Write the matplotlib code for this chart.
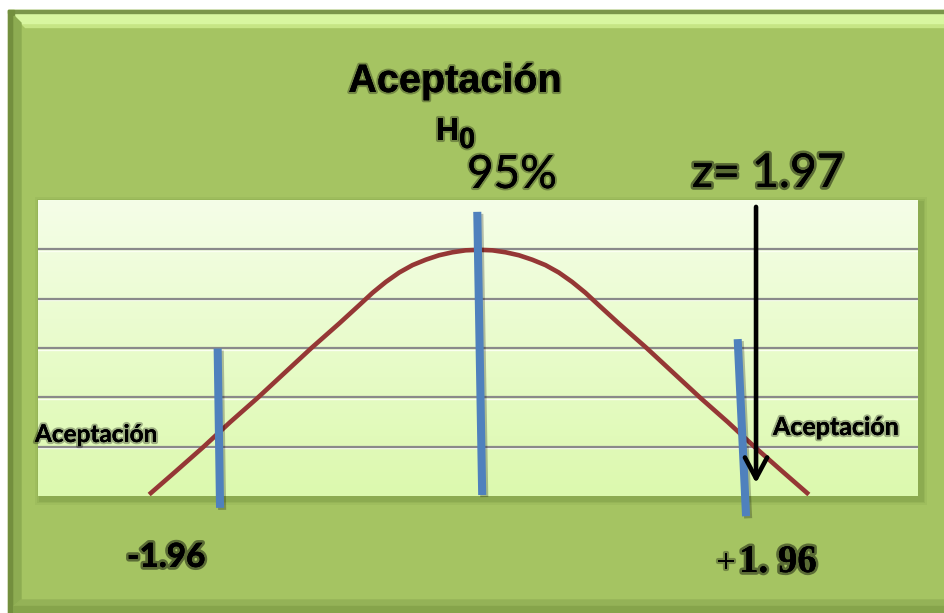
import numpy as np
import matplotlib
matplotlib.use("Agg")
import matplotlib.pyplot as plt
import matplotlib.patheffects as pe
from matplotlib.patches import Polygon, Rectangle

# curva de aceptacion (z, altura)
curva_z = [-2.48, -2.28, -2.07, -1.87, -1.66, -1.46, -1.26, -1.05, -0.9, -0.8, -0.7,
           -0.6, -0.5, -0.4, -0.3, -0.2, -0.1, 0.0, 0.1, 0.2, 0.3, 0.4, 0.5, 0.6,
           0.7, 0.8, 0.9, 1.05, 1.26, 1.46, 1.66, 1.87, 2.07, 2.28, 2.48]
curva_h = [0.03, 0.5, 1.0, 1.5, 2.0, 2.5, 3.0, 3.5, 3.87, 4.12, 4.34,
           4.53, 4.68, 4.79, 4.88, 4.94, 4.98, 4.99, 4.98, 4.94, 4.88, 4.79, 4.68, 4.53,
           4.34, 4.12, 3.87, 3.5, 3.0, 2.5, 2.0, 1.5, 1.0, 0.5, 0.03]

# lineas azules: -1.96, centro, +1.96 (extremo superior e inferior)
linea_z_sup = [-1.965, -0.013, 1.945]
linea_z_inf = [-1.947, 0.024, 2.008]
linea_h_sup = [2.99, 5.76, 3.18]
linea_h_inf = [-0.24, 0.02, -0.41]

# flecha del estadistico z = 1.97
flecha_z = 2.083
flecha_h = [5.86, 0.26]

niveles_grid = [1, 2, 3, 4, 5]

W, H = 944, 613
fig = plt.figure(figsize=(W / 100, H / 100), dpi=100)
fig.patch.set_facecolor("white")


def px(x, y):
    return x / W, 1 - y / H


# fondo verde con biseles
fondo = fig.add_axes([0, 0, 1, 1], zorder=-1)
fondo.set_xlim(0, W)
fondo.set_ylim(H, 0)
fondo.axis("off")
fondo.add_patch(Rectangle((8, 10), W, H, color="#a5c462"))
fondo.add_patch(Polygon([(8, 10), (W, 10), (W, 27), (25, 27)], color="#c6e585"))
fondo.add_patch(Polygon([(14, 14), (W, 14), (W, 23), (21, 23)], color="#d8f6a0"))
fondo.add_patch(Rectangle((8, 10), W, 2.5, color="#7b964a"))
fondo.add_patch(Rectangle((8, 10), 6, H, color="#738f3e"))
fondo.add_patch(Polygon([(14, 16), (21, 23), (21, H), (14, H)], color="#8dac52"))
fondo.add_patch(Polygon([(14, 606), (21, 600), (W, 600), (W, 606)], color="#94b257"))
fondo.add_patch(Rectangle((14, 606), W, 8, color="#86a44b"))

# sombra del area de grafico
for d, a in [(6, 0.06), (4, 0.08), (2.5, 0.1)]:
    fondo.add_patch(Rectangle((38 - d + 3, 200 - d + 3), 880 + 2 * d, 296 + 2 * d,
                              color="#3d5a1a", alpha=a, lw=0))

ax = fig.add_axes([38 / W, (H - 496) / H, 880 / W, 296 / H])
x0, x1 = (38 - 479) / 133, (918 - 479) / 133
ax.axis("off")

# degradado claro arriba, verde abajo
grad = np.linspace(0, 1, 256)[:, None]
colores = matplotlib.colors.LinearSegmentedColormap.from_list("g", ["#f5fee8", "#dcf9ae"])
ax.imshow(grad, cmap=colores, aspect="auto", origin="upper",
          extent=[x0, x1, 0, 6], zorder=0)
ax.set_xlim(x0, x1)
ax.set_ylim(0, 6)

for g in niveles_grid:
    ax.axhline(g - 0.035, color="#fbfff2", lw=1.0, zorder=1)
    ax.axhline(g, color="#8a8a8a", lw=1.6, zorder=1)

ax.plot(curva_z, curva_h, color="#953735", lw=3.3, zorder=3,
        solid_capstyle="butt", solid_joinstyle="round")

sombra = [pe.SimpleLineShadow(offset=(1.5, -1.5), alpha=0.25), pe.Normal()]
for zs, zi, hs, hi in zip(linea_z_sup, linea_z_inf, linea_h_sup, linea_h_inf):
    ax.plot([zs, zi], [hs, hi], color="#4f81bd", lw=5.8, zorder=4, clip_on=False,
            solid_capstyle="butt", path_effects=sombra)

ax.annotate("", xy=(flecha_z, flecha_h[1]), xytext=(flecha_z, flecha_h[0]),
            arrowprops=dict(arrowstyle="->,head_length=0.75,head_width=0.4",
                            mutation_scale=20, lw=3.3, color="black",
                            shrinkA=0, shrinkB=0),
            annotation_clip=False, zorder=5)

brillo = [pe.withStroke(linewidth=3, foreground=(0, 0, 0, 0.3)), pe.Normal()]
brillo_grueso = [pe.withStroke(linewidth=4, foreground=(0, 0, 0, 0.45)), pe.Normal()]

fig.text(*px(455, 92), "Aceptación", ha="center", va="baseline", fontsize=28.5,
         family="Liberation Sans", weight="bold", path_effects=brillo)
fig.text(*px(436, 140), "H", ha="left", va="baseline", fontsize=23,
         family="Liberation Sans", weight="bold", path_effects=brillo)
fig.text(*px(459, 148), "0", ha="left", va="baseline", fontsize=21,
         family="Liberation Sans", weight="bold", path_effects=brillo)
fig.text(*px(467, 188), "95%", ha="left", va="baseline", fontsize=33,
         family="Lato", path_effects=brillo)
fig.text(*px(692, 187), "z= 1.97", ha="left", va="baseline", fontsize=33.5,
         family="Lato", path_effects=brillo_grueso)
fig.text(*px(35, 442), "Aceptación", ha="left", va="baseline", fontsize=17.5,
         family="Lato", weight="bold", path_effects=brillo)
fig.text(*px(773, 435), "Aceptación", ha="left", va="baseline", fontsize=18,
         family="Lato", weight="bold", path_effects=brillo)
fig.text(*px(127, 567), "-1.96", ha="left", va="baseline", fontsize=24,
         family="Lato", weight=900, path_effects=brillo_grueso)
fig.text(*px(726, 564), "+", ha="center", va="center", fontsize=25,
         family="Liberation Serif", weight="bold", path_effects=brillo)
fig.text(*px(739, 572), "1. 96", ha="left", va="baseline", fontsize=28,
         family="Liberation Serif", weight="bold", path_effects=brillo_grueso)

fig.savefig("out.png", dpi=100)
